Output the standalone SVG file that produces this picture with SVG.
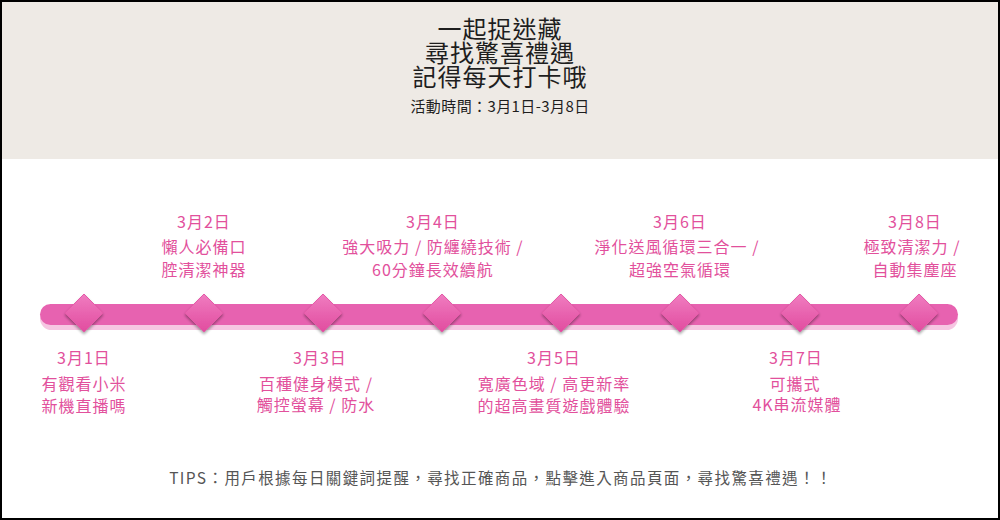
<svg xmlns="http://www.w3.org/2000/svg" width="1000" height="520" viewBox="0 0 1000 520">
<defs>
<style>
.t{font-family:"Noto Sans CJK TC","Noto Sans CJK SC",sans-serif;text-anchor:middle}
.title{font-size:24px;fill:#1e1e1e;letter-spacing:1px}
.sub{font-size:15px;fill:#1e1e1e;letter-spacing:0.4px}
.lbl{font-size:16px;fill:#e2509c;letter-spacing:1px}
.tips{font-size:15.5px;fill:#555;letter-spacing:1.4px}
</style>
<linearGradient id="dg" x1="0" y1="0" x2="0" y2="1">
<stop offset="0" stop-color="#f07cc0"/>
<stop offset="1" stop-color="#e14c9f"/>
</linearGradient>
<filter id="sh" x="-50%" y="-50%" width="200%" height="200%">
<feGaussianBlur in="SourceAlpha" stdDeviation="1.5"/>
<feOffset dy="2"/>
<feComponentTransfer><feFuncA type="linear" slope="0.35"/></feComponentTransfer>
<feMerge><feMergeNode/><feMergeNode in="SourceGraphic"/></feMerge>
</filter>
<polygon id="dia" points="0,-19 19,0 0,19 -19,0" fill="url(#dg)" stroke="#e55aa8" stroke-width="1"/>
</defs>
<rect x="0" y="0" width="1000" height="520" fill="#fff"/>
<rect x="0" y="0" width="1000" height="159" fill="#eeeae5"/>
<g id="header">
<text class="t title" x="500" y="38">一起捉迷藏</text>
<text class="t title" x="500" y="62">尋找驚喜禮遇</text>
<text class="t title" x="500" y="86">記得每天打卡哦</text>
<text class="t sub" x="500" y="112">活動時間：3月1日-3月8日</text>
</g>
<g id="connectors">
<rect x="40" y="307" width="918" height="23" rx="11.5" fill="#f6c6e2"/>
<rect x="40" y="304" width="918" height="21" rx="10.5" fill="#e762b0"/>
</g>
<g id="d1"><use href="#dia" x="84" y="313" filter="url(#sh)"/>
<text class="t lbl" x="84" y="364">3月1日</text><text class="t lbl" x="84" y="390">有觀看小米</text><text class="t lbl" x="84" y="412">新機直播嗎</text></g>
<g id="d2"><use href="#dia" x="204" y="313" filter="url(#sh)"/>
<text class="t lbl" x="204" y="228">3月2日</text><text class="t lbl" x="204" y="253">懶人必備口</text><text class="t lbl" x="204" y="276">腔清潔神器</text></g>
<g id="d3"><use href="#dia" x="323" y="313" filter="url(#sh)"/>
<text class="t lbl" x="320" y="364">3月3日</text><text class="t lbl" x="316" y="390">百種健身模式 /</text><text class="t lbl" x="316" y="411">觸控螢幕 / 防水</text></g>
<g id="d4"><use href="#dia" x="442" y="313" filter="url(#sh)"/>
<text class="t lbl" x="433" y="228">3月4日</text><text class="t lbl" x="433" y="253">強大吸力 / 防纏繞技術 /</text><text class="t lbl" x="433" y="276">60分鐘長效續航</text></g>
<g id="d5"><use href="#dia" x="561" y="313" filter="url(#sh)"/>
<text class="t lbl" x="554" y="364">3月5日</text><text class="t lbl" x="554" y="390">寬廣色域 / 高更新率</text><text class="t lbl" x="554" y="412">的超高畫質遊戲體驗</text></g>
<g id="d6"><use href="#dia" x="680" y="313" filter="url(#sh)"/>
<text class="t lbl" x="680" y="228">3月6日</text><text class="t lbl" x="677" y="253">淨化送風循環三合一 /</text><text class="t lbl" x="680" y="276">超強空氣循環</text></g>
<g id="d7"><use href="#dia" x="800" y="313" filter="url(#sh)"/>
<text class="t lbl" x="796" y="364">3月7日</text><text class="t lbl" x="795" y="390">可攜式</text><text class="t lbl" x="797" y="411">4K串流媒體</text></g>
<g id="d8"><use href="#dia" x="919" y="313" filter="url(#sh)"/>
<text class="t lbl" x="915" y="228">3月8日</text><text class="t lbl" x="912" y="253">極致清潔力 /</text><text class="t lbl" x="915" y="276">自動集塵座</text></g>
<text class="t tips" x="501" y="484">TIPS：用戶根據每日關鍵詞提醒，尋找正確商品，點擊進入商品頁面，尋找驚喜禮遇！！</text>
<rect x="1" y="1" width="998" height="518" fill="none" stroke="#000" stroke-width="2"/>
</svg>
